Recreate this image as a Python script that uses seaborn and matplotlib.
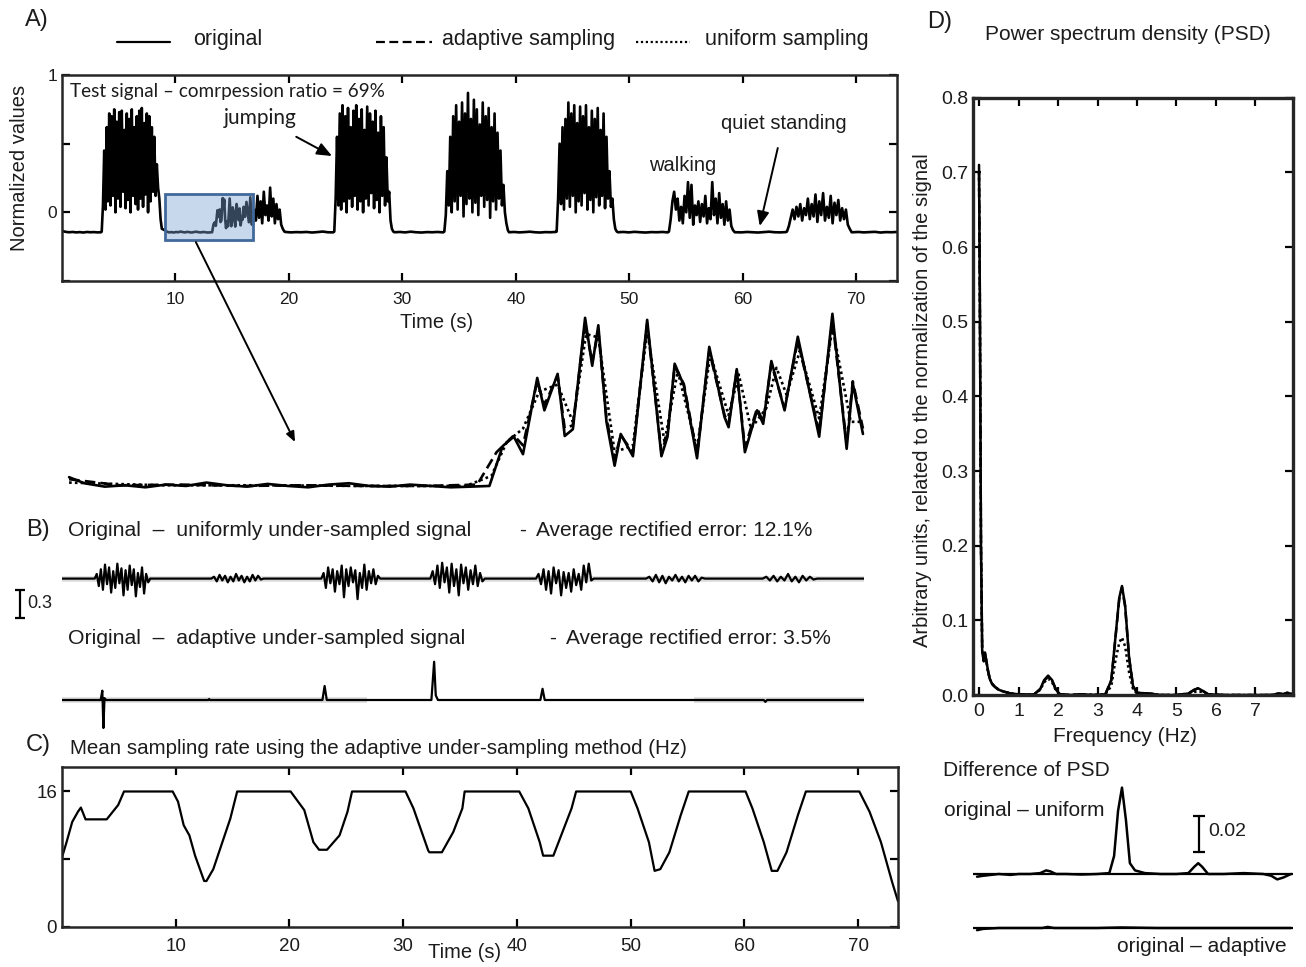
import numpy as np
import pandas as pd
import seaborn as sns
import matplotlib
matplotlib.use("Agg")
import matplotlib.pyplot as plt
from matplotlib.lines import Line2D
from matplotlib.patches import Rectangle

# ---------------- DATA ----------------
# Panel A: original test signal, read piecewise (start s, end s, values)
a_base0 = [-0.135, -0.142, -0.145, -0.143, -0.146, -0.144, -0.147, -0.143, -0.145, -0.144, -0.146, -0.145]
a_jump1 = [-0.14, 0.05, 0.45, 0.02, 0.62, 0.08, 0.72, 0.05, 0.70, 0.12, 0.75, 0.00, 0.66, 0.10, 0.73, 0.04,
           0.74, 0.15, 0.60, 0.03, 0.72, 0.09, 0.68, 0.00, 0.75, 0.12, 0.62, 0.06, 0.70, 0.02, 0.74, 0.10,
           0.76, 0.04, 0.65, 0.13, 0.72, 0.00, 0.70, 0.08, 0.62, 0.15, 0.55, 0.12, 0.35, 0.18, 0.10, -0.05, -0.12]
a_small2 = [0.02, -0.06, 0.12, -0.04, 0.08, -0.08, 0.15, -0.02, 0.05, -0.06, 0.18, -0.03, 0.10, -0.08, 0.06,
            -0.05, 0.02, -0.09, -0.12, -0.14]
a_base2 = [-0.143, -0.146, -0.144, -0.145, -0.143, -0.147, -0.144, -0.140, -0.145, -0.146]
a_jump2 = [-0.14, 0.10, 0.55, 0.05, 0.72, 0.02, 0.78, 0.08, 0.70, 0.00, 0.76, 0.10, 0.62, 0.04, 0.74, 0.12,
           0.78, 0.02, 0.68, 0.08, 0.75, 0.00, 0.60, 0.10, 0.77, 0.05, 0.72, 0.14, 0.66, 0.03, 0.74, 0.09,
           0.58, 0.00, 0.70, 0.12, 0.62, 0.05, 0.40, 0.08, 0.15, -0.06, -0.12, -0.14]
a_base3 = [-0.145, -0.143, -0.146, -0.141, -0.145, -0.147, -0.144, -0.145, -0.143, -0.146]
a_jump3 = [-0.14, -0.02, 0.30, 0.05, 0.55, 0.00, 0.70, 0.08, 0.78, 0.02, 0.66, 0.12, 0.80, -0.03, 0.72, 0.06,
           0.87, 0.10, 0.68, 0.00, 0.82, 0.07, 0.75, -0.02, 0.64, 0.12, 0.80, 0.04, 0.70, 0.09, 0.76, -0.04,
           0.62, 0.08, 0.72, 0.02, 0.58, 0.10, 0.45, 0.05, 0.20, 0.00, -0.08, -0.13]
a_base4 = [-0.145, -0.143, -0.146, -0.144, -0.141, -0.145, -0.147, -0.144, -0.145, -0.143]
a_jump4 = [-0.14, 0.10, 0.50, 0.06, 0.62, 0.02, 0.68, 0.10, 0.80, 0.04, 0.72, 0.12, 0.78, 0.00, 0.65, 0.08,
           0.77, 0.05, 0.70, 0.14, 0.78, 0.02, 0.62, 0.09, 0.74, 0.00, 0.68, 0.11, 0.76, 0.05, 0.60, 0.12,
           0.72, 0.03, 0.55, 0.10, 0.30, 0.04, 0.10, -0.05, -0.12, -0.14]
a_base5 = [-0.145, -0.143, -0.146, -0.142, -0.145, -0.147, -0.144, -0.145, -0.143, -0.146]
a_walk1 = [-0.14, -0.05, 0.08, 0.15, 0.02, 0.10, -0.06, 0.04, -0.08, 0.12, 0.00, 0.22, -0.04, 0.20, -0.09,
           0.05, -0.02, 0.08, -0.07, 0.06, -0.03, 0.12, -0.08, 0.03, -0.05, 0.22, -0.02, 0.10, -0.08, 0.14,
           -0.04, 0.06, -0.09, 0.08, -0.06, 0.02, -0.10, -0.13, -0.145]
a_base6 = [-0.145, -0.146, -0.143, -0.145, -0.147, -0.144, -0.141, -0.145, -0.146, -0.144]
a_walk2 = [-0.14, -0.10, -0.04, 0.02, -0.05, 0.04, -0.03, 0.06, -0.06, 0.03, -0.02, 0.10, -0.05, 0.06, -0.03,
           0.13, -0.07, 0.08, -0.02, 0.14, -0.06, 0.04, -0.04, 0.12, -0.08, 0.07, -0.02, 0.09, -0.06, 0.03,
           -0.05, 0.02, -0.09, -0.12, -0.145]
a_base7 = [-0.145, -0.143, -0.146, -0.144, -0.142, -0.147, -0.144, -0.145, -0.143]
a_segments = [
    (0.0, 3.45, a_base0), (3.5, 8.8, a_jump1),
    (16.95, 19.6, a_small2), (19.7, 23.9, a_base2), (24.0, 29.2, a_jump2),
    (29.3, 33.6, a_base3), (33.7, 39.3, a_jump3), (39.4, 43.5, a_base4),
    (43.6, 48.9, a_jump4), (49.0, 53.4, a_base5), (53.5, 59.3, a_walk1),
    (59.4, 63.8, a_base6), (63.9, 69.6, a_walk2), (69.7, 73.6, a_base7),
]

# Zoomed detail 9.1 - 16.9 s (original / adaptive / uniform)
ins_t = [9.10, 9.25, 9.45, 9.65, 9.85, 10.05, 10.25, 10.45, 10.65, 10.85, 11.05, 11.25, 11.45, 11.65, 11.85,
         12.05, 12.25, 12.45, 12.65, 12.85, 13.05, 13.23, 13.36, 13.47, 13.56, 13.70, 13.77, 13.90, 13.97,
         14.05, 14.17, 14.24, 14.30, 14.38, 14.46, 14.52, 14.64, 14.78, 14.92, 14.98, 15.05, 15.14, 15.27,
         15.39, 15.54, 15.58, 15.66, 15.74, 15.86, 15.92, 16.00, 16.13, 16.26, 16.47, 16.60, 16.74, 16.80, 16.90]
ins_v = [-0.132, -0.141, -0.146, -0.144, -0.147, -0.143, -0.145, -0.140, -0.144, -0.146, -0.142, -0.145,
         -0.147, -0.143, -0.141, -0.145, -0.146, -0.143, -0.145, -0.147, -0.146, -0.145, -0.086, -0.072,
         -0.098, 0.015, -0.033, 0.021, -0.071, -0.061, 0.104, 0.033, 0.093, -0.050, -0.115, -0.068, -0.101,
         0.101, -0.101, -0.072, 0.036, 0.004, -0.104, 0.061, -0.043, -0.058, 0.028, -0.095, -0.033, -0.053,
         0.040, -0.033, 0.076, -0.072, 0.110, -0.090, 0.007, -0.068]
ins_ad_t = [9.10, 9.6, 10.2, 10.8, 11.4, 12.0, 12.6, 13.11, 13.30, 13.47, 13.56, 13.70, 13.77, 13.90, 13.97,
            14.05, 14.17, 14.24, 14.30, 14.38, 14.46, 14.52, 14.64, 14.78, 14.92, 14.98, 15.05, 15.14, 15.27,
            15.39, 15.54, 15.58, 15.66, 15.74, 15.86, 15.92, 16.00, 16.13, 16.26, 16.47, 16.60, 16.74, 16.80, 16.90]
ins_ad_v = [-0.135, -0.144, -0.143, -0.145, -0.144, -0.145, -0.145, -0.143, -0.095, -0.070, -0.085, 0.010,
            -0.025, 0.018, -0.060, -0.055, 0.095, 0.038, 0.085, -0.045, -0.105, -0.070, -0.095, 0.095, -0.095,
            -0.068, 0.032, 0.006, -0.098, 0.055, -0.040, -0.052, 0.025, -0.088, -0.030, -0.050, 0.036, -0.030,
            0.070, -0.065, 0.100, -0.082, 0.010, -0.060]
ins_un_t = [9.10, 10.0, 11.0, 12.0, 13.0, 13.25, 13.40, 13.56, 13.72, 13.90, 14.05, 14.18, 14.30, 14.46, 14.64,
            14.78, 14.95, 15.08, 15.27, 15.40, 15.58, 15.68, 15.80, 15.95, 16.05, 16.15, 16.28, 16.47, 16.60,
            16.78, 16.90]
ins_un_v = [-0.140, -0.144, -0.144, -0.145, -0.145, -0.130, -0.080, -0.060, -0.005, 0.005, -0.050, 0.080,
            0.075, -0.095, -0.085, 0.085, -0.080, 0.025, -0.090, 0.050, -0.040, 0.020, -0.060, -0.030, 0.030,
            -0.010, 0.055, -0.045, 0.090, -0.050, -0.050]

# Panel B: original - uniformly under-sampled (bursts: start, end, values)
ub1 = [0, 0.05, -0.08, 0.10, -0.12, 0.15, -0.06, 0.12, -0.15, 0.08, -0.10, 0.16, -0.05, 0.11, -0.18, 0.09,
       -0.12, 0.14, -0.07, 0.10, -0.19, 0.06, -0.09, 0.12, -0.16, 0.05, -0.04, 0]
ub2 = [0, 0.02, -0.03, 0.04, -0.02, 0.03, -0.04, 0.02, -0.03, 0.05, -0.02, 0.03, -0.04, 0.02, -0.03, 0.04,
       -0.02, 0.03, -0.01, 0]
ub3 = [0, 0.06, -0.10, 0.12, -0.05, 0.10, -0.14, 0.08, -0.06, 0.14, -0.20, 0.10, -0.08, 0.12, -0.04, 0.09,
       -0.22, 0.06, -0.10, 0.15, -0.12, 0.08, -0.05, 0.10, -0.06, 0.03, 0]
ub4 = [0, 0.08, -0.06, 0.14, -0.10, 0.17, -0.04, 0.12, -0.15, 0.16, -0.08, 0.10, -0.18, 0.15, -0.05, 0.12,
       -0.12, 0.09, -0.06, 0.14, -0.08, 0.06, -0.03, 0]
ub5 = [0, 0.05, -0.06, 0.10, -0.12, 0.08, -0.16, 0.12, -0.05, 0.09, -0.18, 0.07, -0.10, 0.06, -0.14, 0.10,
       -0.07, 0.05, -0.12, 0.14, -0.04, 0.16, -0.02, 0]
ub6 = [0, 0.02, -0.03, 0.04, -0.04, 0.03, -0.05, 0.02, -0.02, 0.04, -0.03, 0.02, -0.04, 0.03, -0.02, 0.03,
       -0.03, 0.01, 0]
ub7 = [0, 0.02, -0.02, 0.03, -0.03, 0.02, -0.02, 0.05, -0.03, 0.02, -0.04, 0.03, -0.02, 0.02, -0.01, 0]
b_unif_bursts = [(3.0, 8.1, ub1), (13.7, 18.5, ub2), (23.8, 29.2, ub3), (33.8, 38.8, ub4),
                 (43.5, 48.8, ub5), (53.6, 59.0, ub6), (64.3, 69.3, ub7)]
b_span = [0.0, 73.6]
# original - adaptive under-sampled
b_ad_t = [0.0, 3.55, 3.7, 3.8, 3.9, 4.05, 13.4, 13.5, 13.6, 23.9, 24.1, 24.3, 33.9, 34.15, 34.3, 34.5,
          43.9, 44.1, 44.3, 64.4, 64.55, 64.7, 73.6]
b_ad_v = [0.0, 0.0, 0.10, -0.30, 0.02, 0.0, 0.0, 0.01, 0.0, 0.0, 0.15, 0.0, 0.0, 0.41, 0.05, 0.0,
          0.0, 0.12, 0.0, 0.0, -0.02, 0.0, 0.0]
b_ad_noisy = [(0.0, 28.0), (58.0, 73.6)]

# Panel C: mean sampling rate (Hz)
c_t = [0.0, 0.4, 0.9, 1.4, 1.66, 2.07, 3.93, 4.94, 5.45, 9.73, 10.2, 10.7, 11.2, 11.7, 12.5, 12.7, 13.3,
       14.0, 14.8, 15.4, 20.1, 21.3, 22.1, 22.6, 23.3, 24.4, 25.1, 25.5, 30.2, 30.9, 32.2, 32.3, 33.4,
       34.4, 35.2, 35.4, 40.2, 41.0, 42.0, 42.3, 43.2, 44.0, 44.8, 45.2, 50.0, 50.6, 51.6, 52.1, 52.6,
       53.4, 54.4, 55.1, 60.1, 60.7, 61.7, 62.4, 62.9, 63.7, 64.7, 65.4, 70.1, 71.0, 72.0, 73.0, 73.5]
c_v = [8.2, 10.0, 12.4, 13.6, 14.1, 12.7, 12.7, 14.4, 16.0, 16.0, 14.8, 12.0, 10.8, 8.4, 5.4, 5.4, 6.8,
       9.6, 12.8, 16.0, 16.0, 13.8, 10.0, 9.1, 9.1, 10.8, 13.6, 16.0, 16.0, 14.0, 9.0, 8.8, 8.8, 11.2,
       14.0, 16.0, 16.0, 14.0, 10.0, 8.4, 8.4, 11.2, 14.0, 16.0, 16.0, 14.0, 10.0, 6.6, 6.8, 8.8, 13.2,
       16.0, 16.0, 14.0, 10.0, 6.6, 6.6, 8.8, 13.2, 16.0, 16.0, 13.6, 10.0, 5.2, 3.0]

# Panel D: PSD
psd_f = [0.0, 0.02, 0.05, 0.08, 0.12, 0.15, 0.18, 0.22, 0.27, 0.33, 0.4, 0.5, 0.6, 0.8, 1.0, 1.2, 1.4,
         1.55, 1.65, 1.75, 1.85, 1.95, 2.05, 2.3, 2.6, 2.9, 3.2, 3.35, 3.45, 3.55, 3.62, 3.7, 3.8, 3.9,
         4.0, 4.3, 4.6, 5.0, 5.3, 5.45, 5.55, 5.65, 5.8, 6.2, 6.6, 7.0, 7.4, 7.6, 7.7, 7.8, 7.95]
psd_orig = [0.71, 0.55, 0.2, 0.06, 0.045, 0.057, 0.048, 0.035, 0.022, 0.015, 0.011, 0.007, 0.005, 0.002,
            0.001, 0.0005, 0.001, 0.008, 0.02, 0.026, 0.02, 0.007, 0.001, 0.0, 0.001, 0.0, 0.001, 0.02,
            0.075, 0.13, 0.146, 0.12, 0.05, 0.012, 0.003, 0.002, 0.0, 0.0, 0.002, 0.007, 0.009, 0.006,
            0.001, 0.0, 0.0, 0.0, 0.0, 0.002, 0.001, 0.003, 0.001]
psd_adapt = [0.70, 0.54, 0.2, 0.062, 0.046, 0.055, 0.047, 0.034, 0.022, 0.015, 0.011, 0.007, 0.005, 0.002,
             0.001, 0.0005, 0.001, 0.008, 0.019, 0.025, 0.019, 0.007, 0.001, 0.0, 0.001, 0.0, 0.001, 0.02,
             0.074, 0.128, 0.144, 0.118, 0.05, 0.012, 0.003, 0.002, 0.0, 0.0, 0.002, 0.007, 0.009, 0.006,
             0.001, 0.0, 0.0, 0.0, 0.0, 0.002, 0.001, 0.003, 0.001]
psd_unif = [0.70, 0.54, 0.2, 0.06, 0.045, 0.055, 0.046, 0.034, 0.022, 0.015, 0.011, 0.007, 0.005, 0.002,
            0.001, 0.0005, 0.001, 0.007, 0.017, 0.022, 0.017, 0.006, 0.001, 0.0, 0.001, 0.0, 0.001, 0.012,
            0.045, 0.07, 0.077, 0.065, 0.03, 0.008, 0.002, 0.002, 0.0, 0.0, 0.001, 0.004, 0.005, 0.004,
            0.001, 0.0, 0.0, 0.0, 0.0, 0.002, 0.001, 0.003, 0.001]
# Difference of PSD
dfu_f = [-0.05, 0.1, 0.3, 0.5, 0.8, 1.0, 1.3, 1.55, 1.7, 1.8, 1.95, 2.2, 2.6, 3.0, 3.3, 3.42, 3.52, 3.62,
         3.72, 3.82, 3.95, 4.2, 4.6, 5.0, 5.3, 5.45, 5.55, 5.65, 5.8, 6.2, 6.7, 7.2, 7.4, 7.55, 7.7, 7.9]
dfu_v = [-0.0015, -0.001, -0.0005, 0.0, -0.0005, 0.0, 0.0, 0.0005, 0.002, 0.0015, 0.0, 0.0, -0.0003, 0.0,
         0.0005, 0.01, 0.035, 0.048, 0.03, 0.006, 0.002, 0.0005, 0.0, 0.0, 0.0005, 0.004, 0.006, 0.004,
         0.0, 0.0, 0.0005, 0.0, -0.001, -0.003, -0.002, 0.0]
dfa_f = [-0.05, 0.1, 0.5, 1.0, 1.6, 1.74, 1.9, 2.5, 3.0, 3.6, 4.5, 5.5, 6.5, 7.9]
dfa_v = [-0.0012, -0.0005, 0.0, 0.0, 0.0, 0.0006, 0.0, 0.0, 0.0, 0.0003, 0.0, 0.0, 0.0, 0.0]

xticks_time = [10, 20, 30, 40, 50, 60, 70]
xticks_freq = [0, 1, 2, 3, 4, 5, 6, 7]
yticks_psd = [0.0, 0.1, 0.2, 0.3, 0.4, 0.5, 0.6, 0.7, 0.8]

# ---------------- STYLE ----------------
W, H = 1306, 967
sns.set_style("ticks")
plt.rcParams['font.family'] = ['Liberation Sans', 'DejaVu Sans']
plt.rcParams['axes.linewidth'] = 1.8
TXT = '#1c1c1c'
CAL = ['Lato', 'Liberation Sans', 'DejaVu Sans']

fig = plt.figure(figsize=(W / 100, H / 100), dpi=100)


def rect(x0, y0, x1, y1):
    return [x0 / W, 1 - y1 / H, (x1 - x0) / W, (y1 - y0) / H]


def ftext(x, y, s, size=15, ha='left', va='center', **kw):
    fig.text(x / W, 1 - y / H, s, fontsize=size, ha=ha, va=va, color=TXT, **kw)


def tick_in(ax, size):
    ax.tick_params(direction='in', length=6, width=1.6, top=True, right=True,
                   labelsize=size, colors='black', labelcolor=TXT)


dash_map = {'original': '', 'adaptive sampling': (4, 2), 'uniform sampling': (1, 1.2)}

# ---------------- PANEL A ----------------
axA = fig.add_axes(rect(62, 75, 897, 281))
pt, pv = [], []
for t0, t1, vals in a_segments:
    pt.append(np.linspace(t0, t1, len(vals)))
    pv.append(np.asarray(vals, float))
pt.append(np.asarray(ins_t)); pv.append(np.asarray(ins_v))
tA = np.concatenate(pt); vA = np.concatenate(pv)
o = np.argsort(tA, kind='stable')
dfA = pd.DataFrame({'t': tA[o], 'v': vA[o]})
sns.lineplot(data=dfA, x='t', y='v', estimator=None, sort=False, color='black', lw=1.9, ax=axA)
axA.set_xlim(0, 73.6)
axA.set_ylim(-0.5, 1.0)
axA.set_xticks(xticks_time)
axA.set_yticks([-0.5, 0, 0.5, 1.0])
axA.set_yticklabels(['', '0', '', '1'])
axA.set_xlabel(''); axA.set_ylabel('')
tick_in(axA, 12.5)
axA.tick_params(axis='x', pad=8)
axA.add_patch(Rectangle((9.12, -0.203), 16.87 - 9.12, 0.333, facecolor=(0.494, 0.639, 0.831, 0.42),
                        edgecolor='#41699b', lw=2, zorder=5))
axA.text(0.7, 0.88, 'Test signal \u2013 comrpession ratio = 69%', fontsize=13.6, family=CAL, color=TXT, va='center')
axA.annotate('jumping', xy=(23.8, 0.41), xytext=(17.5, 0.69), fontsize=15, family=CAL, color=TXT,
             ha='center', va='center',
             arrowprops=dict(arrowstyle='-|>,head_length=0.6,head_width=0.25', color='black', lw=1.4,
                             shrinkA=9, shrinkB=0))
axA.annotate('quiet standing', xy=(61.5, -0.10), xytext=(63.6, 0.65), fontsize=14.5, color=TXT,
             ha='center', va='center',
             arrowprops=dict(arrowstyle='-|>,head_length=0.6,head_width=0.25', color='black', lw=1.4,
                             shrinkA=9, shrinkB=0))
axA.text(54.7, 0.34, 'walking', fontsize=14.5, color=TXT, ha='center', va='center')

# ---------------- ZOOM INSET ----------------
axI = fig.add_axes(rect(65, 305, 866, 490))
dfI = pd.concat([
    pd.DataFrame({'t': ins_un_t, 'v': ins_un_v, 'kind': 'uniform sampling'}),
    pd.DataFrame({'t': ins_ad_t, 'v': ins_ad_v, 'kind': 'adaptive sampling'}),
    pd.DataFrame({'t': ins_t, 'v': ins_v, 'kind': 'original'}),
])
sns.lineplot(data=dfI, x='t', y='v', style='kind', dashes=dash_map, color='black', lw=1.9,
             estimator=None, sort=False, legend=False, ax=axI)
axI.set_xlim(9.06, 16.93)
axI.set_ylim(-0.151, 0.123)
axI.axis('off')
axI.patch.set_alpha(0)
axI.annotate('', xy=(11.32, -0.080), xycoords=axI.transData, xytext=(11.8, -0.217),
             textcoords=axA.transData, annotation_clip=False,
             arrowprops=dict(arrowstyle='-|>,head_length=0.6,head_width=0.25', color='black', lw=1.4,
                             shrinkA=0, shrinkB=0))

# ---------------- PANEL B ----------------
k = 0.3 / 28.0
axB1 = fig.add_axes(rect(62, 540, 864, 620))
bt = [b_span[0]]; bv = [0.0]
for t0, t1, vals in b_unif_bursts:
    bt.extend(np.linspace(t0, t1, len(vals))); bv.extend(vals)
bt.append(b_span[1]); bv.append(0.0)
axB1.plot(b_span, [0, 0], color='#dadada', lw=4, solid_capstyle='butt', zorder=1)
sns.lineplot(x=bt, y=bv, estimator=None, sort=False, color='black', lw=1.6, ax=axB1)
axB1.set_xlim(0, 73.6)
axB1.set_ylim(-41.4 * k, 38.6 * k)
axB1.axis('off')
# 0.3 scale bar
axB1.plot([-3.85, -3.85], [-0.12, -0.42], color='black', lw=1.6, clip_on=False, marker='_', ms=7, mew=1.6)

axB2 = fig.add_axes(rect(62, 650, 864, 740))
for t0, t1 in b_ad_noisy:
    axB2.plot([t0, t1], [0, 0], color='#dadada', lw=4, solid_capstyle='butt', zorder=1)
sns.lineplot(x=b_ad_t, y=b_ad_v, estimator=None, sort=False, color='black', lw=1.6, ax=axB2)
axB2.set_xlim(0, 73.6)
axB2.set_ylim(-40 * k, 50 * k)
axB2.axis('off')

# ---------------- PANEL C ----------------
axC = fig.add_axes(rect(62, 767, 898, 926.6))
sns.lineplot(x=c_t, y=c_v, estimator=None, sort=False, color='black', lw=1.6, ax=axC)
axC.set_xlim(0, 73.5)
axC.set_ylim(0, 18.9)
axC.set_xticks(xticks_time)
axC.set_yticks([0, 8, 16])
axC.set_yticklabels(['0', '', '16'])
tick_in(axC, 13.5)
axC.tick_params(axis='x', pad=8)

# ---------------- PANEL D ----------------
axD = fig.add_axes(rect(972.7, 97.7, 1293, 695))
dfD = pd.concat([
    pd.DataFrame({'f': psd_f, 'p': psd_unif, 'kind': 'uniform sampling'}),
    pd.DataFrame({'f': psd_f, 'p': psd_adapt, 'kind': 'adaptive sampling'}),
    pd.DataFrame({'f': psd_f, 'p': psd_orig, 'kind': 'original'}),
])
sns.lineplot(data=dfD, x='f', y='p', style='kind', dashes=dash_map, color='black', lw=1.8,
             estimator=None, sort=False, legend=False, ax=axD)
axD.set_xlim(-0.16, 7.95)
axD.set_ylim(0, 0.8)
axD.set_xticks(xticks_freq)
axD.set_yticks(yticks_psd)
axD.set_yticklabels([f'{y:.1f}' for y in yticks_psd])
axD.set_xlabel(''); axD.set_ylabel('')
for s in axD.spines.values():
    s.set_linewidth(2.4)
tick_in(axD, 14)
axD.tick_params(axis='y', pad=3)
axD.tick_params(axis='x', pad=6)

# Difference of PSD
kd = 0.02 / 36.0
axE1 = fig.add_axes(rect(972.7, 780, 1293, 900))
axE1.axhline(0, color='black', lw=1.6)
sns.lineplot(x=dfu_f, y=dfu_v, estimator=None, sort=False, color='black', lw=1.8, ax=axE1)
axE1.set_xlim(-0.16, 7.95)
axE1.set_ylim(-26 * kd, 94 * kd)
axE1.axis('off')
axE1.plot([5.57, 5.57], [0.0122, 0.0322], color='black', lw=1.6, marker='_', ms=8, mew=1.6, clip_on=False)

axE2 = fig.add_axes(rect(972.7, 905, 1293, 945))
axE2.axhline(0, color='black', lw=1.6)
sns.lineplot(x=dfa_f, y=dfa_v, estimator=None, sort=False, color='black', lw=1.8, ax=axE2)
axE2.set_xlim(-0.16, 7.95)
axE2.set_ylim(-17 * kd, 23 * kd)
axE2.axis('off')

# ---------------- TEXT / LEGEND ----------------
ftext(25, 20, 'A)', size=17)
leg_items = [(117, 170, 193, 'original'), (376, 432, 442, 'adaptive sampling'),
             (636, 690, 705, 'uniform sampling')]
for x0, x1, xt, lab in leg_items:
    ls = dash_map[lab]
    line = Line2D([x0 / W, x1 / W], [1 - 42 / H] * 2, color='black', lw=1.6,
                  linestyle='-' if ls == '' else (0, ls), transform=fig.transFigure)
    fig.add_artist(line)
    ftext(xt, 40, lab, size=15.5)
ftext(437, 323, 'Time (s)', size=14.5, ha='center')
ftext(20, 168, 'Normalized values', size=14.5, ha='center', rotation=90)

ftext(26, 530, 'B)', size=17)
ftext(68, 530, 'Original  \u2013  uniformly under-sampled signal', size=15.3)
ftext(519, 530, '-', size=15)
ftext(536, 530, 'Average rectified error: 12.1%', size=15)
ftext(68, 638, 'Original  \u2013  adaptive under-sampled signal', size=15.3)
ftext(549, 638, '-', size=15)
ftext(566, 638, 'Average rectified error: 3.5%', size=15)
ftext(27, 604, '0.3', size=13)

ftext(26, 745, 'C)', size=17)
ftext(70, 749, 'Mean sampling rate using the adaptive under-sampling method (Hz)', size=14.8)
ftext(465, 953, 'Time (s)', size=14.5, ha='center')

ftext(927, 22, 'D)', size=17)
ftext(1128, 34, 'Power spectrum density (PSD)', size=15, ha='center')
ftext(922, 400, 'Arbitrary units, related to the normalization of the signal', size=14.5, ha='center',
      rotation=90)
ftext(1125, 737, 'Frequency (Hz)', size=15, ha='center')
ftext(943, 770, 'Difference of PSD', size=15)
ftext(944, 810, 'original \u2013 uniform', size=15)
ftext(1208, 832, '0.02', size=14)
ftext(1287, 947, 'original \u2013 adaptive', size=15, ha='right')

fig.savefig('out.png', dpi=100)
